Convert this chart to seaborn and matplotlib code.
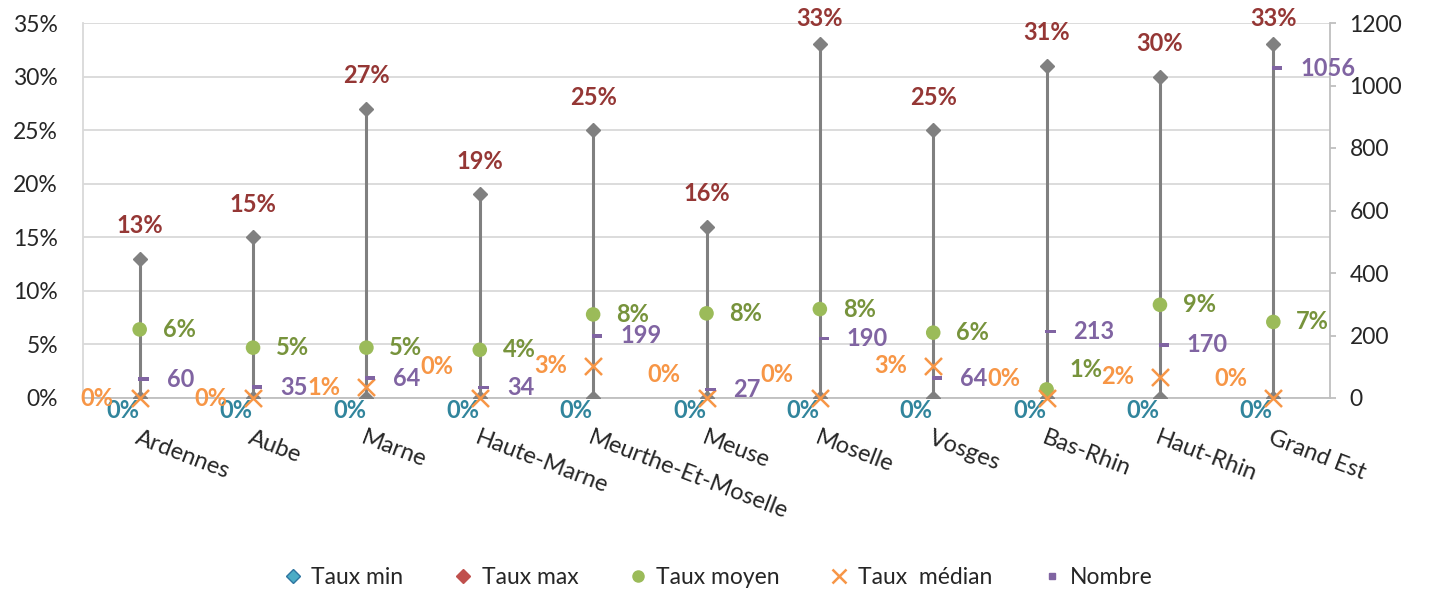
import numpy as np
import pandas as pd
import matplotlib
matplotlib.use("Agg")
import matplotlib.pyplot as plt
from matplotlib.lines import Line2D
from matplotlib.path import Path
import seaborn as sns

departements = ["Ardennes", "Aube", "Marne", "Haute-Marne", "Meurthe-Et-Moselle",
                "Meuse", "Moselle", "Vosges", "Bas-Rhin", "Haut-Rhin", "Grand Est"]
taux_min = [0, 0, 0, 0, 0, 0, 0, 0, 0, 0, 0]
taux_max = [13, 15, 27, 19, 25, 16, 33, 25, 31, 30, 33]
taux_moyen = [6.4, 4.7, 4.7, 4.5, 7.8, 7.9, 8.3, 6.1, 0.8, 8.7, 7.1]
taux_median = [0, 0, 1, 0, 3, 0, 0, 3, 0, 2, 0]
nombre = [60, 35, 64, 34, 199, 27, 190, 64, 213, 170, 1056]

df = pd.DataFrame({"dep": departements, "min": taux_min, "max": taux_max,
                   "moyen": taux_moyen, "median": taux_median, "nombre": nombre})
df["x"] = np.arange(len(df))

# label nudges (pixels, upwards) where Excel moved labels to avoid overlaps
med_nudge = [0, 0, 0, 31, 0, 23, 23, 0, 20, 0, 20]
moy_nudge = [0, 0, 0, 0, 0, 0, 0, 0, 20, 0, 0]

GRAY = "#808080"
C_MIN = "#31859C"
C_MAX = "#953735"
C_MOY = "#9BBB59"
C_MOY_T = "#77933C"
C_MED = "#F79646"
C_NB = "#8064A2"

sns.set_theme(style="white")
plt.rcParams["font.family"] = ["Lato", "DejaVu Sans"]

dash = Path([(-0.15, -0.2), (1, -0.2), (1, 0.2), (-0.15, 0.2), (-0.15, -0.2)],
            [Path.MOVETO, Path.LINETO, Path.LINETO, Path.LINETO, Path.CLOSEPOLY])

AX_H = 375
fig = plt.figure(figsize=(14.32, 5.92), dpi=100)
ax = fig.add_axes([83 / 1432, 194 / 592, 1247 / 1432, AX_H / 592])

ax.vlines(df["x"], df["min"], df["max"], color=GRAY, lw=2.2, zorder=2)
ax.plot(df["x"], df["max"], "D", ms=7.5, color=GRAY, zorder=3, clip_on=False)
ax.plot(df["x"], df["min"], "D", ms=7.5, color=GRAY, zorder=3)
sns.scatterplot(data=df, x="x", y="moyen", ax=ax, color=C_MOY, s=110,
                edgecolor="none", zorder=4, legend=False, clip_on=False)
sns.scatterplot(data=df, x="x", y="median", ax=ax, color=C_MED, marker="x", s=150,
                linewidth=1.8, zorder=5, legend=False, clip_on=False)

ax.set_xlim(-0.5, len(df) - 0.5)
ax.set_ylim(0, 35)
ax.set_yticks(range(0, 36, 5))
ax.set_yticklabels([f"{v}%" for v in range(0, 36, 5)])
ax.yaxis.grid(True, color="#D9D9D9", lw=1.3)
ax.set_axisbelow(True)
ax.set_xticks(df["x"])
ax.set_xticklabels(df["dep"], rotation=-21, ha="left", va="top", rotation_mode="anchor")
ax.tick_params(axis="x", length=0, pad=21, labelsize=17)
ax.tick_params(axis="y", length=0, pad=18, labelsize=16.5)
ax.set_xlabel("")
ax.set_ylabel("")
for s in ["top", "right"]:
    ax.spines[s].set_visible(False)
ax.spines["left"].set_color("#D9D9D9")
ax.spines["bottom"].set_color("#BFBFBF")
ax.spines["left"].set_linewidth(1.3)
ax.spines["bottom"].set_linewidth(1.3)

ax2 = ax.twinx()
sns.scatterplot(data=df, x="x", y="nombre", ax=ax2, color=C_NB, marker=dash, s=169,
                edgecolor="none", zorder=6, legend=False)
ax2.set_ylim(0, 1200)
ax2.set_yticks(range(0, 1201, 200))
ax2.set_ylabel("")
ax2.tick_params(axis="y", length=4, width=1.3, color="#BFBFBF", pad=10, labelsize=16.5)
for s in ["top", "left", "bottom"]:
    ax2.spines[s].set_visible(False)
ax2.spines["right"].set_color("#BFBFBF")
ax2.spines["right"].set_linewidth(1.3)

lab = dict(textcoords="offset pixels", fontsize=17, fontweight="bold",
           annotation_clip=False)
for i, r in df.iterrows():
    # max labels sit 33 px above the marker but stay inside the chart top
    top_room = AX_H * (35 - r["max"]) / 35 + 5
    ax.annotate(f"{r['max']:.0f}%", (r["x"], r["max"]), xytext=(0, min(33, top_room)),
                ha="center", va="center", color=C_MAX, **lab)
    ax.annotate(f"{r['min']:.0f}%", (r["x"], r["min"]), xytext=(-17, -13),
                ha="center", va="center", color=C_MIN, **lab)
    ax.annotate(f"{round(r['moyen']):.0f}%", (r["x"], r["moyen"]), xytext=(23, moy_nudge[i]),
                ha="left", va="center", color=C_MOY_T, **lab)
    ax.annotate(f"{r['median']:.0f}%", (r["x"], r["median"]), xytext=(-26, med_nudge[i]),
                ha="right", va="center", color=C_MED, **lab)
    ax2.annotate(f"{r['nombre']:.0f}", (r["x"], r["nombre"]), xytext=(27, 0),
                 ha="left", va="center", color=C_NB, **lab)

handles = [
    Line2D([], [], ls="", marker="D", ms=7, color="#4BACC6", mec="#2E75A0"),
    Line2D([], [], ls="", marker="D", ms=7, color="#C0504D", mec="#C0504D"),
    Line2D([], [], ls="", marker="o", ms=8, color=C_MOY, mec=C_MOY),
    Line2D([], [], ls="", marker="x", ms=10, mew=1.8, color=C_MED),
    Line2D([], [], ls="", marker="s", ms=4, color=C_NB),
]
labels = ["Taux min", "Taux max", "Taux moyen", "Taux  médian", "Nombre"]
fig.legend(handles, labels, loc="center", bbox_to_anchor=(0.5, 1 - 578 / 592), ncol=5,
           frameon=False, fontsize=16.5, handletextpad=0.2, columnspacing=2.0,
           handlelength=1.2)

fig.savefig("out.png", dpi=100)
